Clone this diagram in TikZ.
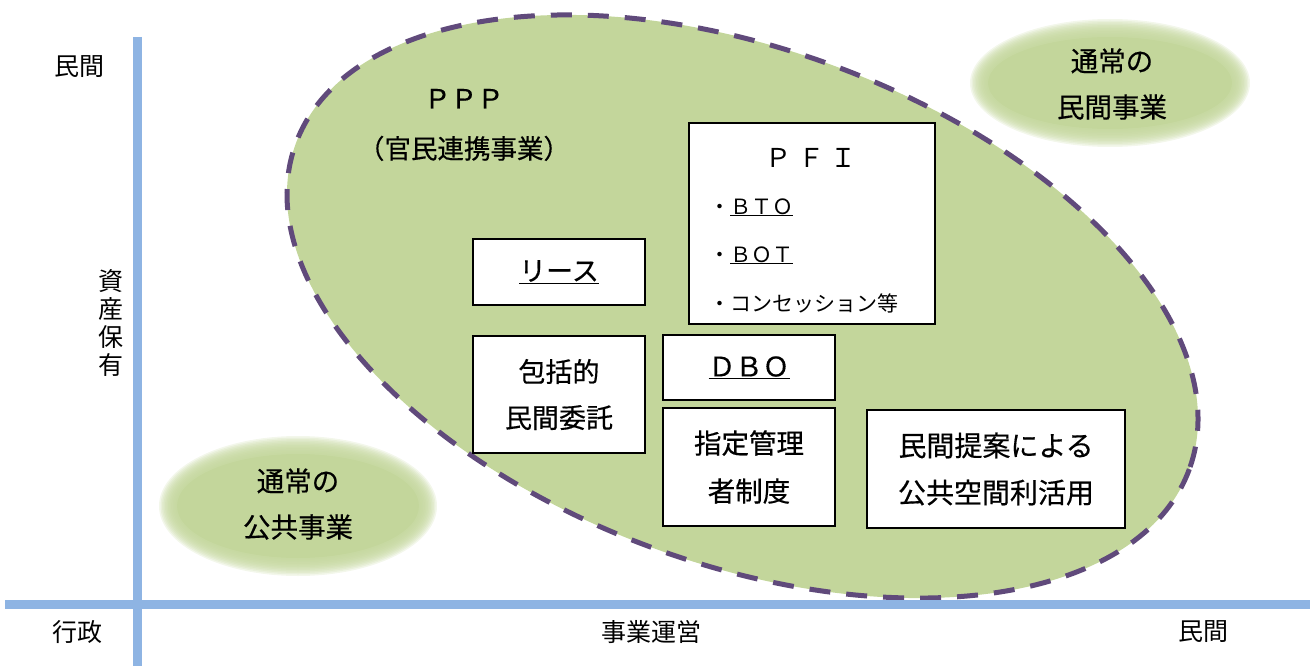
\documentclass[tikz,border=0pt]{standalone}
\usepackage{fontspec}
\setmainfont{Noto Sans CJK JP}
\newfontfamily\gothic[FakeBold=0.45]{Noto Sans CJK JP}
\definecolor{pppgreen}{RGB}{195,214,155}
\definecolor{ppppurple}{RGB}{96,74,123}
\definecolor{axisblue}{RGB}{142,180,227}
\begin{document}
\begin{tikzpicture}[x=1pt,y=-1pt,
  stdbox/.style={draw=black, line width=1.1pt, fill=white, align=center, inner sep=0pt},
  bigtxt/.style={font=\gothic\fontsize{27pt}{46pt}\selectfont},
  axlbl/.style={font=\fontsize{25pt}{28pt}\selectfont, inner sep=0pt},
  pfitxt/.style={font=\fontsize{21pt}{24pt}\selectfont, inner sep=0pt, anchor=base west},
  dashring/.style={draw=ppppurple, line width=5pt, dash pattern=on 21pt off 16pt},
]
\useasboundingbox (0,0) rectangle (1312,666);

% soft ellipses
\foreach \k in {0,...,11}{
  \fill[pppgreen, fill opacity=0.2] (298,506) ellipse [x radius={139-1.5*\k}, y radius={70-1.5*\k}];
  \fill[pppgreen, fill opacity=0.2] (1110,83) ellipse [x radius={140-1.5*\k}, y radius={64-1.5*\k}];
}
\fill[pppgreen] (298,506) ellipse [x radius=121, y radius=52];
\fill[pppgreen] (1110,83) ellipse [x radius=122, y radius=46];

% big PPP ellipse
\begin{scope}[shift={(742.5,306.5)}, rotate=-20]
  \fill[pppgreen] (0,0) ellipse [x radius=475.5, y radius=257.5];
  \path[dashring] (0,0) ellipse [x radius=475.5, y radius=257.5];
\end{scope}

% axes
\coordinate (vtop) at (137,37);
\coordinate (vbot) at (137,666);
\coordinate (hl) at (5,604);
\coordinate (hr) at (1310,604);
\draw[axisblue, line width=9pt] (vtop) -- (vbot);
\draw[axisblue, line width=9pt] (hl) -- (hr);

% axis labels
\node[axlbl] (ymax) at (79,67) {民間};
\node[axlbl] (xmin) at (77,632) {行政};
\node[axlbl] (xname) at (651,632) {事業運営};
\node[axlbl] (xmax) at (1203,632) {民間};
\node[axlbl, align=center] (yname) at (111,323) {資\\産\\保\\有};

% soft ellipse labels
\node[font=\gothic\fontsize{27.5pt}{46pt}\selectfont, align=center, inner sep=0pt] (pub) at (298,504) {通常の\\公共事業};
\node[font=\gothic\fontsize{27.5pt}{46pt}\selectfont, align=center, inner sep=0pt] (priv) at (1112,84) {通常の\\民間事業};

% PPP label
\node[font=\gothic\fontsize{26.5pt}{50pt}\selectfont, align=center, inner sep=0pt] (ppp) at (464,125) {ＰＰＰ\\（官民連携事業）};

% boxes
\node[stdbox, bigtxt, minimum width=172, minimum height=66] (lease) at (559,272) {\underline{リース}};
\node[stdbox, bigtxt, minimum width=172, minimum height=117] (hokatsu) at (559,394.5) {包括的\\民間委託};
\node[stdbox, bigtxt, minimum width=172, minimum height=65] (dbo) at (749,367.5) {\underline{ＤＢＯ}};
\node[stdbox, font=\gothic\fontsize{27.5pt}{48pt}\selectfont, minimum width=172, minimum height=118] (shitei) at (749,467) {指定管理\\者制度};
\node[stdbox, font=\gothic\fontsize{28pt}{47pt}\selectfont, minimum width=258, minimum height=118] (teian) at (996,469) {民間提案による\\公共空間利活用};

% PFI box
\node[stdbox, minimum width=246, minimum height=201] (pfi) at (812,223.5) {};
\node[font=\fontsize{26pt}{30pt}\selectfont, inner sep=0pt] (pfititle) at (811,158) {Ｐ\hspace{7pt}Ｆ\hspace{7pt}Ｉ};
\node[pfitxt] (bto) at (709,214) {・\underline{ＢＴＯ}};
\node[pfitxt] (bot) at (709,262) {・\underline{ＢＯＴ}};
\node[pfitxt] (conc) at (709,311) {・コンセッション等};
\end{tikzpicture}
\end{document}
